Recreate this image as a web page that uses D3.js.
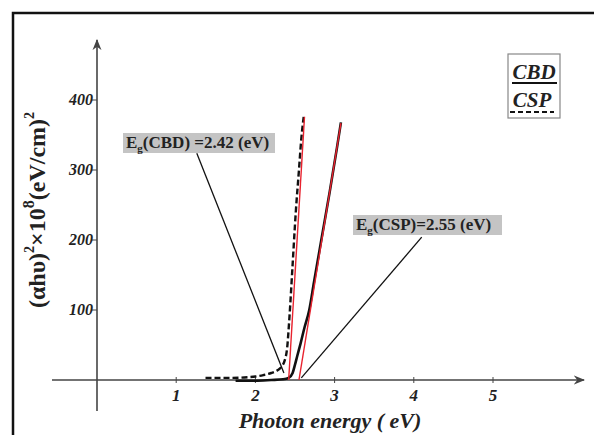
<!DOCTYPE html>
<html lang="en">
<head>
<meta charset="UTF-8">
<title>Photon energy plot</title>
<script src="https://cdnjs.cloudflare.com/ajax/libs/d3/7.8.5/d3.min.js"></script>
<style>
  body { margin: 0; background: #fff; }
</style>
</head>
<body>
<svg id="chart" width="594" height="435"></svg>
<script>
// Data
const xTicks = [1, 2, 3, 4, 5];
const yTicks = [100, 200, 300, 400];

// CBD (solid) curve
const cbdX = [1.75, 2.0, 2.2, 2.35, 2.42, 2.47, 2.5, 2.53, 2.57, 2.62, 2.68, 2.74, 2.84, 2.94, 3.03, 3.08];
const cbdY = [-1, -1, 0, 1, 3, 10, 22, 35, 52, 75, 100, 140, 205, 270, 332, 368];

// CSP (dashed) curve
const cspX = [1.37, 1.5, 1.7, 1.9, 2.0, 2.1, 2.2, 2.28, 2.33, 2.37, 2.40, 2.43, 2.47, 2.51, 2.55, 2.58, 2.61];
const cspY = [3, 3, 3, 4, 5, 7, 10, 14, 19, 28, 45, 90, 165, 240, 300, 345, 376];

// red linear fits: [x0, y0, x1, y1]
const fitSteep = [2.42, 0, 2.62, 376];
const fitShallow = [2.55, 0, 3.08, 367];

// annotations: label, anchor of label line, end of line
const notes = [
  { main: "E", sub: "g", rest: "(CBD) =2.42 (eV)", box: [123, 133, 152, 20], from: [1.26, 324], to: [2.36, 10] },
  { main: "E", sub: "g", rest: "(CSP)=2.55 (eV)", box: [353, 215, 149, 20], from: [4.10, 204], to: [2.58, 3] }
];

const FONT = '"Liberation Serif", "Times New Roman", serif';
const svg = d3.select("#chart");

const x = d3.scaleLinear().domain([0, 5]).range([97, 493]);
const y = d3.scaleLinear().domain([0, 400]).range([380, 100]);

// outer frame
svg.append("rect")
  .attr("x", 13).attr("y", 13).attr("width", 640).attr("height", 460)
  .attr("fill", "none").attr("stroke", "#111").attr("stroke-width", 2.5);

// axes
const axisColor = "#444";
svg.append("defs").append("marker")
  .attr("id", "arrow").attr("viewBox", "0 0 10 10")
  .attr("refX", 9).attr("refY", 5)
  .attr("markerWidth", 7).attr("markerHeight", 7)
  .attr("orient", "auto")
  .append("path").attr("d", "M0,1L10,5L0,9L3,5Z").attr("fill", axisColor);

svg.append("line")
  .attr("x1", 52).attr("x2", 584).attr("y1", y(0)).attr("y2", y(0))
  .attr("stroke", axisColor).attr("stroke-width", 1.6)
  .attr("marker-end", "url(#arrow)");
svg.append("line")
  .attr("x1", x(0)).attr("x2", x(0)).attr("y1", 411).attr("y2", 40)
  .attr("stroke", axisColor).attr("stroke-width", 1.6)
  .attr("marker-end", "url(#arrow)");

// x ticks
svg.selectAll(".xt").data(xTicks).enter().append("line")
  .attr("x1", d => x(d)).attr("x2", d => x(d))
  .attr("y1", y(0) - 3).attr("y2", y(0) + 3)
  .attr("stroke", axisColor).attr("stroke-width", 1);
svg.selectAll(".xl").data(xTicks).enter().append("text")
  .attr("x", d => x(d)).attr("y", 401)
  .attr("text-anchor", "middle")
  .attr("font-size", 17).attr("font-weight", "bold").attr("font-style", "italic")
  .attr("fill", "#222")
  .text(d => d);

// y ticks
svg.selectAll(".yt").data(yTicks).enter().append("line")
  .attr("x1", x(0) - 6).attr("x2", x(0))
  .attr("y1", d => y(d)).attr("y2", d => y(d))
  .attr("stroke", axisColor).attr("stroke-width", 1);
svg.selectAll(".yl").data(yTicks).enter().append("text")
  .attr("x", x(0) - 4).attr("y", d => y(d) + 5)
  .attr("text-anchor", "end")
  .attr("font-size", 16).attr("font-weight", "bold").attr("font-style", "italic")
  .attr("fill", "#222")
  .text(d => d);

// axis titles
svg.append("text")
  .attr("x", 330).attr("y", 428)
  .attr("text-anchor", "middle")
  .attr("font-size", 22).attr("font-weight", "bold").attr("font-style", "italic")
  .attr("fill", "#222")
  .text("Photon energy ( eV)");

const yTitle = svg.append("text")
  .attr("transform", "translate(45,210) rotate(-90)")
  .attr("text-anchor", "middle")
  .attr("font-size", 24).attr("font-weight", "bold")
  .attr("fill", "#222");
yTitle.append("tspan").text("(αhυ)");
yTitle.append("tspan").attr("dy", -11).attr("font-size", 14).text("2");
yTitle.append("tspan").attr("dy", 11).text("×10");
yTitle.append("tspan").attr("dy", -11).attr("font-size", 16).text("8");
yTitle.append("tspan").attr("dy", 11).text("(eV/cm)");
yTitle.append("tspan").attr("dy", -11).attr("font-size", 14).text("2");

// annotation leader lines
svg.selectAll(".lead").data(notes).enter().append("line")
  .attr("x1", d => x(d.from[0])).attr("y1", d => y(d.from[1]))
  .attr("x2", d => x(d.to[0])).attr("y2", d => y(d.to[1]))
  .attr("stroke", "#111").attr("stroke-width", 1.3);

// curves
const line = d3.line().x(d => x(d[0])).y(d => y(d[1])).curve(d3.curveMonotoneX);

svg.append("path")
  .datum(cbdX.map((v, i) => [v, cbdY[i]]))
  .attr("d", line)
  .attr("fill", "none").attr("stroke", "#111").attr("stroke-width", 2.6);

svg.append("path")
  .datum(cspX.map((v, i) => [v, cspY[i]]))
  .attr("d", line)
  .attr("fill", "none").attr("stroke", "#111").attr("stroke-width", 2.4)
  .attr("stroke-dasharray", "6,3");

// red fits
[fitSteep, fitShallow].forEach(f => {
  svg.append("line")
    .attr("x1", x(f[0])).attr("y1", y(f[1]))
    .attr("x2", x(f[2])).attr("y2", y(f[3]))
    .attr("stroke", "#e8222e").attr("stroke-width", 1.4);
});

// annotation labels
notes.forEach(n => {
  svg.append("rect")
    .attr("x", n.box[0]).attr("y", n.box[1])
    .attr("width", n.box[2]).attr("height", n.box[3])
    .attr("fill", "#c4c4c4");
  const t = svg.append("text")
    .attr("x", n.box[0] + 3).attr("y", n.box[1] + 15)
    .attr("font-size", 17).attr("font-weight", "bold").attr("fill", "#222");
  t.append("tspan").text(n.main);
  t.append("tspan").attr("dy", 4).attr("font-size", 11).text(n.sub);
  t.append("tspan").attr("dy", -4).text(n.rest);
});

// legend
const lg = svg.append("g");
lg.append("rect")
  .attr("x", 508).attr("y", 54).attr("width", 52).attr("height", 64)
  .attr("fill", "#fff").attr("stroke", "#888").attr("stroke-width", 1.2);
lg.append("text")
  .attr("x", 534).attr("y", 79).attr("text-anchor", "middle")
  .attr("font-size", 21).attr("font-weight", "bold").attr("font-style", "italic")
  .attr("fill", "#222").text("CBD");
lg.append("line")
  .attr("x1", 512).attr("x2", 557).attr("y1", 83).attr("y2", 83)
  .attr("stroke", "#111").attr("stroke-width", 2);
lg.append("text")
  .attr("x", 532).attr("y", 107).attr("text-anchor", "middle")
  .attr("font-size", 21).attr("font-weight", "bold").attr("font-style", "italic")
  .attr("fill", "#222").text("CSP");
lg.append("line")
  .attr("x1", 510).attr("x2", 554).attr("y1", 112).attr("y2", 112)
  .attr("stroke", "#111").attr("stroke-width", 2)
  .attr("stroke-dasharray", "5,3");

svg.selectAll("text").style("font-family", FONT);
</script>
</body>
</html>
